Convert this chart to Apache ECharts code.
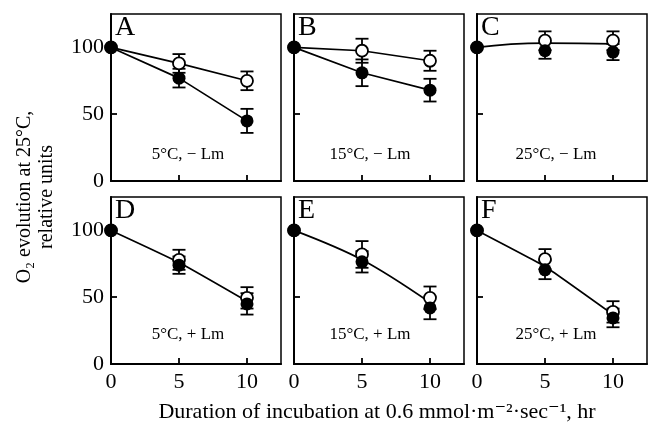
<!DOCTYPE html>
<html>
<head>
<meta charset="utf-8">
<script src="https://cdn.jsdelivr.net/npm/echarts@6/dist/echarts.min.js"></script>
<style>html,body{margin:0;padding:0;background:#fff}#c{width:648px;height:426px}</style>
</head>
<body>
<div id="c"></div>
<script>
// ---- data ----
const xValues = [0, 5, 10];
const panelLetters = ['A', 'B', 'C', 'D', 'E', 'F'];
const panelLabels = ['5°C, − Lm', '15°C, − Lm', '25°C, − Lm', '5°C, + Lm', '15°C, + Lm', '25°C, + Lm'];
const openVals = [
  [100, 88, 75],
  [100, 97.5, 90],
  [100, 105, 105],
  [100, 78, 49.5],
  [100, 82, 49.5],
  [100, 78.5, 39]
];
const filledVals = [
  [100, 77, 45],
  [100, 81, 68],
  [100, 97.5, 96.5],
  [100, 74, 45],
  [100, 76.5, 42],
  [100, 70.5, 34.5]
];
const openErr = [
  [0, 7, 7],
  [0, 9, 7.5],
  [0, 7, 7],
  [0, 7.5, 8],
  [0, 10, 8.5],
  [0, 7.5, 8]
];
const filledErr = [
  [0, 7, 9],
  [0, 10, 8.5],
  [0, 6, 6],
  [0, 6.5, 8],
  [0, 8, 8.5],
  [0, 7, 7]
];
// fitted curves (null = each series joined by its own line)
const fitVals = [
  null,
  null,
  [100, 103.2, 102.6],
  [100, 76, 47],
  [100, 78, 46],
  [100, 73, 37]
];
const yTicks = [0, 50, 100];
const xTicks = [0, 5, 10];
const xTitle = 'Duration of incubation at 0.6 mmol·m⁻²·sec⁻¹, hr';
const yTitle1 = 'O₂ evolution at 25°C,';
const yTitle2 = 'relative units';

// ---- layout ----
const FONT = '"Liberation Serif", "DejaVu Serif", serif';
const colLeft = [111, 294, 477];
const rowTop = [14, 197];
const W = 170, H = 167;
const smoothFit = [false, false, true, 0.15, 0.35, 0.1];
const labelDx = [-8, -9, -6];

const chart = echarts.init(document.getElementById('c'), null, {renderer: 'canvas'});

const grids = [], xAxes = [], yAxes = [], series = [], graphics = [];

function pts(vals) { return xValues.map((x, i) => [x, vals[i]]); }
function errPts(vals, errs) { return xValues.map((x, i) => [x, vals[i], errs[i]]); }

function errRender(params, api) {
  const x = api.value(0), y = api.value(1), e = api.value(2);
  if (!e) return null;
  const t = api.coord([x, y + e]);
  const b = api.coord([x, y - e]);
  const cw = 6.5;
  const st = {stroke: '#000', lineWidth: 1.8};
  return {type: 'group', children: [
    {type: 'line', shape: {x1: t[0], y1: t[1], x2: b[0], y2: b[1]}, style: st},
    {type: 'line', shape: {x1: t[0] - cw, y1: t[1], x2: t[0] + cw, y2: t[1]}, style: st},
    {type: 'line', shape: {x1: b[0] - cw, y1: b[1], x2: b[0] + cw, y2: b[1]}, style: st}
  ]};
}

for (let p = 0; p < 6; p++) {
  const r = Math.floor(p / 3), c = p % 3;
  grids.push({left: colLeft[c], top: rowTop[r], width: W, height: H, show: true,
    borderColor: '#000', borderWidth: 1.5, backgroundColor: 'transparent'});
  xAxes.push({gridIndex: p, type: 'value', min: 0, max: 12.5,
    axisLine: {show: true, lineStyle: {color: '#000', width: 2}},
    axisTick: {show: true, inside: true, length: 6, customValues: [5, 10], lineStyle: {color: '#000', width: 1.8}},
    splitLine: {show: false},
    axisLabel: {show: r === 1, customValues: xTicks, color: '#000', fontFamily: FONT, fontSize: 22, margin: 7}
  });
  yAxes.push({gridIndex: p, type: 'value', min: 0, max: 125,
    axisLine: {show: true, lineStyle: {color: '#000', width: 2}},
    axisTick: {show: true, inside: true, length: 6, customValues: [50, 100], lineStyle: {color: '#000', width: 1.8}},
    splitLine: {show: false},
    axisLabel: {show: c === 0, customValues: yTicks, color: '#000', fontFamily: FONT, fontSize: 22, margin: 7}
  });

  // error bars
  series.push({type: 'custom', xAxisIndex: p, yAxisIndex: p, z: 1, silent: true,
    renderItem: errRender, data: errPts(openVals[p], openErr[p])});
  series.push({type: 'custom', xAxisIndex: p, yAxisIndex: p, z: 1, silent: true,
    renderItem: errRender, data: errPts(filledVals[p], filledErr[p])});

  const fit = fitVals[p];
  if (fit) {
    series.push({type: 'line', xAxisIndex: p, yAxisIndex: p, z: 2, smooth: smoothFit[p], symbol: 'none',
      lineStyle: {color: '#000', width: 1.7}, data: pts(fit)});
    series.push({type: 'scatter', xAxisIndex: p, yAxisIndex: p, z: 3, symbol: 'circle', symbolSize: 12,
      itemStyle: {color: '#fff', borderColor: '#000', borderWidth: 1.8, opacity: 1}, data: pts(openVals[p])});
    series.push({type: 'scatter', xAxisIndex: p, yAxisIndex: p, z: 4, symbol: 'circle', symbolSize: 13,
      itemStyle: {color: '#000', opacity: 1}, data: pts(filledVals[p])});
  } else {
    series.push({type: 'line', xAxisIndex: p, yAxisIndex: p, z: 3, symbol: 'circle', symbolSize: 12,
      showSymbol: true, lineStyle: {color: '#000', width: 1.7},
      itemStyle: {color: '#fff', borderColor: '#000', borderWidth: 1.8}, data: pts(openVals[p])});
    series.push({type: 'line', xAxisIndex: p, yAxisIndex: p, z: 4, symbol: 'circle', symbolSize: 13,
      showSymbol: true, lineStyle: {color: '#000', width: 1.7},
      itemStyle: {color: '#000', borderColor: '#000', borderWidth: 0}, data: pts(filledVals[p])});
  }

  graphics.push({type: 'text', left: colLeft[c] + 4, top: rowTop[r], z: 10,
    style: {text: panelLetters[p], font: '28px ' + FONT, fill: '#000'}});
  graphics.push({type: 'text', x: colLeft[c] + W / 2 + labelDx[c], y: rowTop[r] + H - (r === 0 ? 26 : 29), z: 10,
    style: {text: panelLabels[p], font: '17px ' + FONT, fill: '#000', textAlign: 'center', textVerticalAlign: 'middle'}});
}

graphics.push({type: 'text', x: 377, y: 412, z: 10,
  style: {text: xTitle, font: '22px ' + FONT, fill: '#000', textAlign: 'center', textVerticalAlign: 'middle'}});
graphics.push({type: 'text', x: 25, y: 197, rotation: Math.PI / 2, z: 10,
  style: {text: yTitle1, font: '20px ' + FONT, fill: '#000', textAlign: 'center', textVerticalAlign: 'middle'}});
graphics.push({type: 'text', x: 47, y: 197, rotation: Math.PI / 2, z: 10,
  style: {text: yTitle2, font: '20px ' + FONT, fill: '#000', textAlign: 'center', textVerticalAlign: 'middle'}});

chart.setOption({
  animation: false,
  backgroundColor: '#fff',
  grid: grids, xAxis: xAxes, yAxis: yAxes, series: series, graphic: graphics
});
</script>
</body>
</html>
